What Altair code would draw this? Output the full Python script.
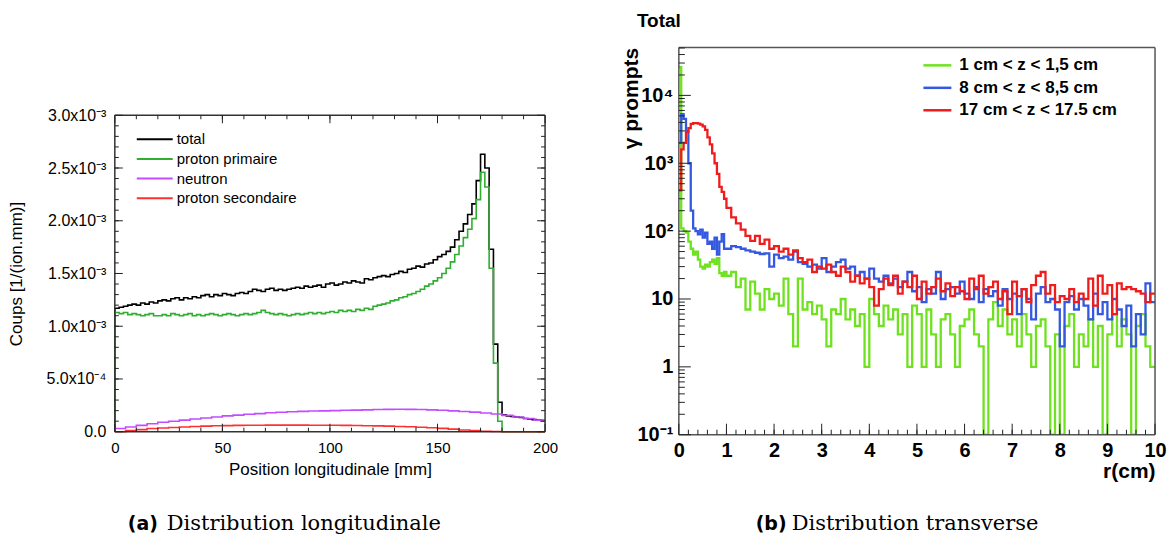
import altair as alt
import pandas as pd

# ---------------- (a) Distribution longitudinale ----------------
# values in units of 1e-3 (1/(ion.mm))
# total / proton primaire : 2 mm bins starting at 0 mm
total = [1.17, 1.18, 1.19, 1.20, 1.21, 1.20, 1.22, 1.21, 1.23, 1.22,
         1.24, 1.25, 1.24, 1.26, 1.27, 1.25, 1.27, 1.26, 1.28, 1.27,
         1.29, 1.30, 1.28, 1.30, 1.29, 1.31, 1.30, 1.29, 1.31, 1.32,
         1.31, 1.33, 1.35, 1.34, 1.33, 1.35, 1.36, 1.34, 1.35, 1.34,
         1.35, 1.36, 1.37, 1.36, 1.38, 1.37, 1.38, 1.39, 1.37, 1.40,
         1.41, 1.39, 1.40, 1.42, 1.41, 1.43, 1.42, 1.41, 1.45, 1.44,
         1.46, 1.47, 1.48, 1.47, 1.49, 1.50, 1.52, 1.51, 1.54, 1.55,
         1.57, 1.56, 1.59, 1.60, 1.63, 1.66, 1.68, 1.71, 1.75, 1.82,
         1.90, 1.97, 2.06, 2.16, 2.38, 2.63, 2.50, 1.73, 0.83, 0.28,
         0.16, 0.15, 0.145, 0.14, 0.135, 0.125, 0.12, 0.115, 0.11, 0.105]
primaire = [1.13, 1.12, 1.13, 1.11, 1.12, 1.11, 1.10, 1.11, 1.12, 1.10,
            1.10, 1.11, 1.10, 1.12, 1.11, 1.10, 1.11, 1.12, 1.10, 1.11,
            1.10, 1.11, 1.12, 1.11, 1.10, 1.11, 1.12, 1.11, 1.10, 1.11,
            1.12, 1.11, 1.12, 1.13, 1.15, 1.13, 1.12, 1.11, 1.12, 1.11,
            1.10, 1.11, 1.12, 1.11, 1.12, 1.13, 1.12, 1.13, 1.12, 1.13,
            1.14, 1.13, 1.15, 1.14, 1.15, 1.14, 1.16, 1.15, 1.17, 1.16,
            1.19, 1.20, 1.21, 1.22, 1.24, 1.25, 1.27, 1.28, 1.30, 1.31,
            1.33, 1.35, 1.38, 1.40, 1.43, 1.46, 1.50, 1.55, 1.61, 1.68,
            1.76, 1.84, 1.92, 2.02, 2.20, 2.46, 2.32, 1.55, 0.65, 0.10,
            0.0, 0.0, 0.0, 0.0, 0.0, 0.0, 0.0, 0.0, 0.0, 0.0]
# neutron / proton secondaire : 5 mm bins starting at 0 mm
neutron = [0.030, 0.045, 0.060, 0.075, 0.090, 0.100, 0.110, 0.120, 0.130, 0.140,
           0.150, 0.157, 0.165, 0.172, 0.180, 0.185, 0.190, 0.193, 0.196, 0.198,
           0.200, 0.203, 0.205, 0.207, 0.210, 0.212, 0.213, 0.212, 0.210, 0.207,
           0.203, 0.198, 0.192, 0.186, 0.178, 0.168, 0.155, 0.140, 0.125, 0.110]
secondaire = [0.000, 0.010, 0.020, 0.030, 0.035, 0.040, 0.045, 0.050, 0.053, 0.056,
              0.058, 0.060, 0.061, 0.062, 0.063, 0.063, 0.063, 0.063, 0.062, 0.062,
              0.061, 0.060, 0.059, 0.057, 0.055, 0.053, 0.050, 0.047, 0.043, 0.038,
              0.032, 0.025, 0.017, 0.010, 0.005, 0.002, 0.0, 0.0, 0.0, 0.0]
series_a = ["total", "proton primaire", "neutron", "proton secondaire"]
colors_a = ["#000000", "#2fae2f", "#c34cff", "#ff3030"]
x_ticks_a = [0, 50, 100, 150, 200]
y_ticks_a = [0.0, 0.5, 1.0, 1.5, 2.0, 2.5, 3.0]

# ---------------- (b) Distribution transverse ----------------
# 20 bins of 0.05 cm (0-1 cm) then 0.1 cm bins (1-10 cm)
z_1 = [26000, 110, 100, 95, 70, 55, 45, 50, 38, 30, 28, 32, 30, 35, 38, 33, 40, 24, 22, 25,
       22, 25, 15, 20, 7, 18, 12, 7, 14, 10,
       12, 8, 20, 6, 2, 20, 7, 9, 6, 8,
       5, 2, 7, 6, 10, 5, 7, 4, 6, 1,
       10, 6, 4, 8, 5, 7, 3, 6, 1, 8,
       6, 1, 7, 3, 1, 5, 6, 3, 1, 4,
       5, 7, 3, 2, 0, 5, 9, 4, 7, 3,
       5, 2, 6, 3, 1, 4, 5, 2, 0, 3,
       0, 4, 6, 1, 3, 2, 5, 1, 4, 0,
       3, 6, 2, 5, 3, 0, 4, 6, 2, 1]
z_8 = [2000, 5300, 4500, 3000, 1000, 200, 110, 100, 90, 105, 80, 95, 65, 70, 55, 80, 45, 70, 90, 55,
       55, 60, 58, 55, 52, 50, 48, 46, 47, 30,
       45, 40, 42, 38, 50, 35, 33, 30, 32, 28,
       40, 25, 30, 35, 38, 28, 30, 22, 25, 20,
       28, 20, 18, 22, 17, 20, 15, 18, 25, 13,
       15, 9, 14, 12, 25, 10, 14, 15, 12, 18,
       12, 10, 15, 9, 14, 11, 13, 8, 14, 10,
       12, 6, 14, 10, 5, 12, 15, 9, 10, 7,
       2, 9, 11, 7, 10, 8, 5, 12, 6, 9,
       5, 10, 7, 4, 8, 2, 6, 3, 17, 9]
z_17 = [400, 1600, 2000, 2900, 3300, 3800, 3900, 3900, 3850, 3700, 3500, 3100, 2400, 1900, 1400, 1000, 700, 450, 380, 300,
        220, 160, 130, 105, 85, 72, 85, 65, 75, 55,
        60, 50, 55, 45, 52, 40, 35, 38, 25, 30,
        28, 32, 25, 22, 30, 25, 18, 22, 17, 20,
        15, 8, 14, 20, 16, 22, 12, 18, 15, 22,
        10, 18, 12, 15, 20, 13, 17, 11, 15, 13,
        10, 20, 14, 22, 12, 15, 18, 10, 13, 6,
        18, 11, 14, 9, 16, 22, 25, 12, 16, 9,
        11, 10, 14, 9, 12, 10, 20, 8, 22, 12,
        16, 6, 17, 14, 15, 14, 13, 12, 9, 12]
series_b = ["1 cm < z < 1,5 cm", "8 cm < z < 8,5 cm", "17 cm < z < 17.5 cm"]
colors_b = ["#6ee21e", "#3458e0", "#f01c1c"]
x_ticks_b = [0, 1, 2, 3, 4, 5, 6, 7, 8, 9, 10]
y_ticks_b = [0.1, 1, 10, 100, 1000, 10000]

# ---------------- helpers ----------------
def step_frame(values, width, start_zero=False, last_edge=None):
    xs = [round(i * width, 4) for i in range(len(values))]
    vs = list(values)
    if start_zero:
        xs = [0.0] + xs
        vs = [0.0] + vs
    xs.append(last_edge if last_edge is not None else round(len(values) * width, 4))
    vs.append(vs[-1])
    return pd.DataFrame({"x": xs, "v": vs})


def radial_frame(values, floor):
    xs = [round(0.05 * i, 3) for i in range(20)] + \
         [round(1.0 + 0.1 * i, 3) for i in range(len(values) - 20)]
    vs = [max(v, floor) for v in values]
    xs.append(round(xs[-1] + 0.1, 3))
    vs.append(vs[-1])
    return pd.DataFrame({"x": xs, "v": vs})


one = pd.DataFrame({"a": [0]})


def txt(x, y, text, **kw):
    return alt.Chart(one).mark_text(text=text, **kw).encode(x=alt.value(x), y=alt.value(y))


def seg(x1, x2, y1, y2, color, width):
    return alt.Chart(one).mark_rule(color=color, strokeWidth=width).encode(
        x=alt.value(x1), x2=alt.value(x2), y=alt.value(y1), y2=alt.value(y2))


# ---------------- panel (a) ----------------
# both panels share the same top origin; panel (a) frame starts TOP_A px lower
WA, HA, TOP_A = 431, 385, 68
FA = "Liberation Sans"
xa = alt.Scale(domain=[0, 200], nice=False, zero=False)
ya = alt.Scale(domain=[0, 3.0], nice=False, range=[HA, TOP_A])

axis_xa = alt.Axis(
    values=x_ticks_a, title="Position longitudinale [mm]", labelFont=FA, labelFontSize=15,
    labelPadding=9, titleFont=FA, titleFontSize=17, titleFontWeight="normal",
    titleX=WA / 2, titleY=43, titleBaseline="alphabetic", labelFlush=False)
axis_ya = alt.Axis(
    values=y_ticks_a, title="Coups [1/(ion.mm)]", labelFont=FA, labelFontSize=16,
    labelPadding=9,
    labelExpr="datum.value == 0 ? '0.0' : datum.value < 0.75 ? '5.0x10⁻⁴' : format(datum.value, '.1f') + 'x10⁻³'",
    titleFont=FA, titleFontSize=17, titleFontWeight="normal", titleAngle=-90,
    titleX=-98, titleY=(HA + TOP_A) / 2, titleAlign="center", titleBaseline="middle")

frames_a = [step_frame(total, 2, True, 200), step_frame(primaire, 2, True, 200),
            step_frame(neutron, 5, False, 200), step_frame(secondaire, 5, False, 200)]

layers_a = []
for df, col in zip(frames_a, colors_a):
    layers_a.append(alt.Chart(df).mark_line(interpolate="step-after", color=col, strokeWidth=1.6)
                    .encode(x=alt.X("x:Q", scale=xa, axis=axis_xa),
                            y=alt.Y("v:Q", scale=ya, axis=axis_ya)))

# frame
FRAME_A = "#333"
layers_a.append(seg(0, WA, TOP_A, TOP_A, FRAME_A, 1.5))
layers_a.append(seg(0, WA, HA, HA, FRAME_A, 1.5))
layers_a.append(seg(0, 0, TOP_A, HA, FRAME_A, 1.5))
layers_a.append(seg(WA, WA, TOP_A, HA, FRAME_A, 1.5))

# inward ticks (all four sides)
xmaj_a = pd.DataFrame({"t": x_ticks_a})
xmin_a = pd.DataFrame({"t": list(range(10, 200, 10))})
ymaj_a = pd.DataFrame({"t": y_ticks_a})
ymin_a = pd.DataFrame({"t": [round(0.1 * k, 2) for k in range(1, 30)]})
for dfx, ln in [(xmaj_a, 8), (xmin_a, 4)]:
    for y1, y2 in [(HA, HA - ln), (TOP_A, TOP_A + ln)]:
        layers_a.append(alt.Chart(dfx).mark_rule(color="#222", strokeWidth=1).encode(
            x=alt.X("t:Q", scale=xa, axis=axis_xa), y=alt.value(y1), y2=alt.value(y2)))
for dfy, ln in [(ymaj_a, 8), (ymin_a, 4)]:
    for x1, x2 in [(0, ln), (WA, WA - ln)]:
        layers_a.append(alt.Chart(dfy).mark_rule(color="#222", strokeWidth=1).encode(
            y=alt.Y("t:Q", scale=ya, axis=axis_ya), x=alt.value(x1), x2=alt.value(x2)))

# legend (a)
for k, (name, col) in enumerate(zip(series_a, colors_a)):
    yy = TOP_A + 24 + k * 19.7
    layers_a.append(seg(22, 58, yy, yy, col, 2))
    layers_a.append(txt(62, yy, name, font=FA, fontSize=15, align="left", baseline="middle", color="black"))

# caption (a)
layers_a.append(txt(13, TOP_A + 415, "(a)", font="DejaVu Sans", fontWeight="bold", fontSize=19,
                    align="left", baseline="alphabetic", color="black"))
layers_a.append(txt(52, TOP_A + 415, "Distribution longitudinale", font="DejaVu Serif", fontSize=21,
                    align="left", baseline="alphabetic", color="black"))
# layout anchor for right edge (invisible)
layers_a.append(txt(449, TOP_A, ".", fontSize=2, align="left", baseline="top", color="white"))

panel_a = alt.layer(*layers_a).properties(width=WA, height=HA)

# ---------------- panel (b) ----------------
WB, HB = 477, 388
FB = "Liberation Sans"
xb = alt.Scale(domain=[0, 10], nice=False, zero=False)
yb = alt.Scale(type="log", domain=[0.1, 51000], nice=False)

axis_xb = alt.Axis(
    values=x_ticks_b, title="r(cm)", labelFont=FB, labelFontWeight="bold", labelFontSize=20,
    labelPadding=6, titleFont=FB, titleFontWeight="bold", titleFontSize=21,
    titleX=WB, titleY=43, titleAlign="right", titleBaseline="alphabetic", labelFlush=False)
axis_yb = alt.Axis(
    values=y_ticks_b, title="γ prompts", labelFont=FB, labelFontWeight="bold", labelFontSize=20,
    labelPadding=6,
    labelExpr="datum.value < 0.5 ? '10⁻¹' : datum.value < 5 ? '1' : datum.value < 50 ? '10' : datum.value < 500 ? '10²' : datum.value < 5000 ? '10³' : '10⁴'",
    titleFont=FB, titleFontWeight="bold", titleFontSize=21, titleAngle=-90,
    titleX=-47, titleY=0, titleAlign="right", titleBaseline="middle")

frames_b = [radial_frame(z_1, 0.1), radial_frame(z_8, 0.1), radial_frame(z_17, 0.1)]
layers_b = []
for df, col in zip(frames_b, colors_b):
    layers_b.append(alt.Chart(df).mark_line(interpolate="step-after", color=col, strokeWidth=2.3,
                                            clip=True)
                    .encode(x=alt.X("x:Q", scale=xb, axis=axis_xb),
                            y=alt.Y("v:Q", scale=yb, axis=axis_yb)))

FRAME_B = "#555"
layers_b.append(seg(0, WB, 0, 0, FRAME_B, 1.5))
layers_b.append(seg(0, WB, HB, HB, FRAME_B, 1.5))
layers_b.append(seg(0, 0, 0, HB, FRAME_B, 1.5))
layers_b.append(seg(WB, WB, 0, HB, FRAME_B, 1.5))

xmaj_b = pd.DataFrame({"t": x_ticks_b})
xmin_b = pd.DataFrame({"t": [round(0.2 * k, 2) for k in range(1, 50)]})
ymaj_b = pd.DataFrame({"t": y_ticks_b})
ymin_b = pd.DataFrame({"t": [k * 10.0 ** e for e in range(-1, 5) for k in range(2, 10) if k * 10.0 ** e <= 51000]})
for dfx, ln in [(xmaj_b, 11), (xmin_b, 5)]:
    layers_b.append(alt.Chart(dfx).mark_rule(color="#222", strokeWidth=1).encode(
        x=alt.X("t:Q", scale=xb, axis=axis_xb), y=alt.value(HB), y2=alt.value(HB - ln)))
for dfy, ln in [(ymaj_b, 12), (ymin_b, 6)]:
    layers_b.append(alt.Chart(dfy).mark_rule(color="#222", strokeWidth=1).encode(
        y=alt.Y("t:Q", scale=yb, axis=axis_yb), x=alt.value(0), x2=alt.value(ln)))

for k, (name, col) in enumerate(zip(series_b, colors_b)):
    yy = 18 + k * 22.5
    layers_b.append(seg(245, 273, yy, yy, col, 2.5))
    layers_b.append(txt(281, yy, name, font=FB, fontWeight="bold", fontSize=17, align="left",
                        baseline="middle", color="black"))

layers_b.append(txt(-42, -35, "Total", font=FB, fontWeight="bold", fontSize=19, align="left",
                    baseline="top", color="black"))
layers_b.append(txt(77, 483, "(b)", font="DejaVu Sans", fontWeight="bold", fontSize=19,
                    align="left", baseline="alphabetic", color="black"))
layers_b.append(txt(113, 483, "Distribution transverse", font="DejaVu Serif", fontSize=21,
                    align="left", baseline="alphabetic", color="black"))
# layout anchors (invisible): left edge and top edge
layers_b.append(txt(-90, 0, ".", fontSize=2, align="left", baseline="top", color="white"))
layers_b.append(txt(-90, -39, ".", fontSize=2, align="left", baseline="top", color="white"))

panel_b = alt.layer(*layers_b).properties(width=WB, height=HB)

chart = alt.concat(panel_a, panel_b, columns=2, spacing=25, align="none").properties(
    padding={"left": 0, "top": 0, "right": 0, "bottom": 0}
).configure_view(stroke=None).configure_axis(
    grid=False, domain=False, ticks=False, labelColor="black", titleColor="black")

chart.save("out.html", embed_options={"renderer": "svg", "actions": False})
